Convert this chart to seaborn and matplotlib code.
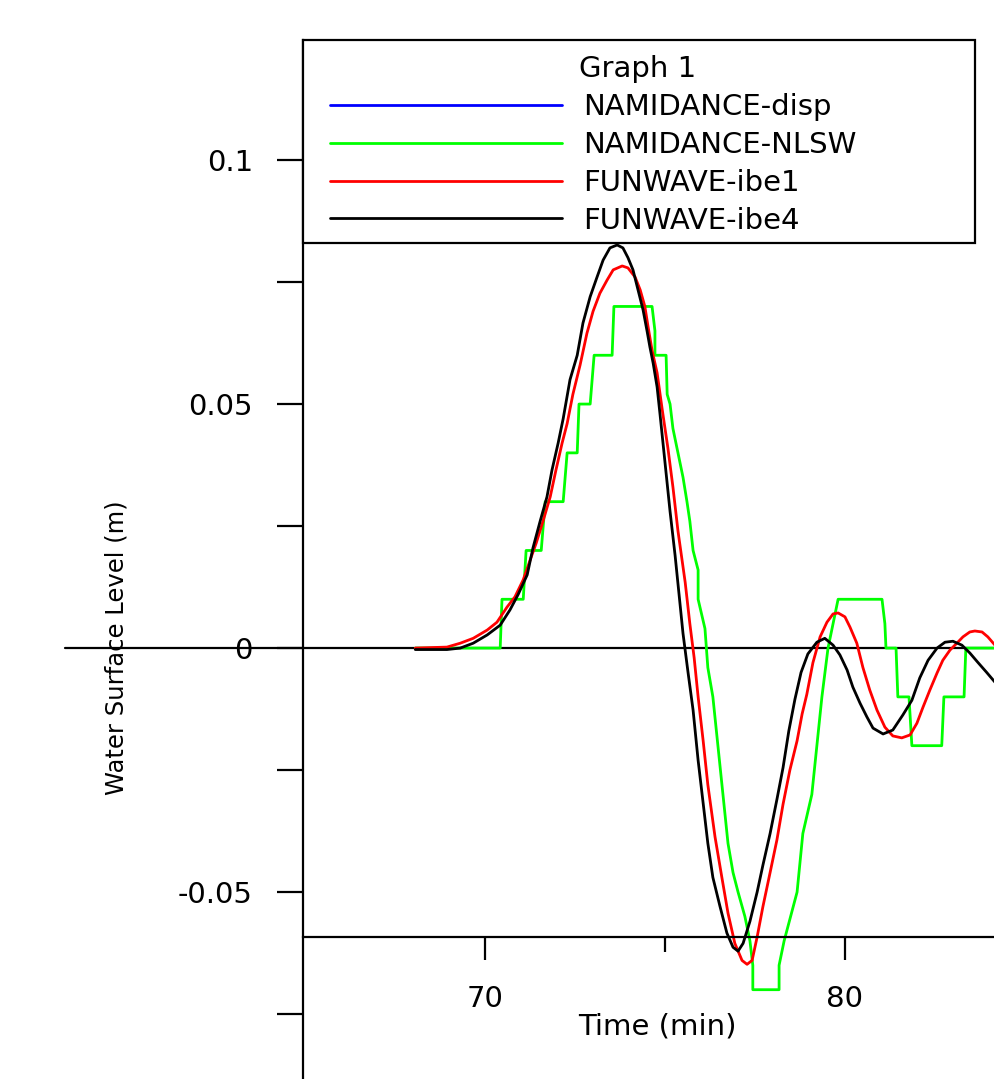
import matplotlib
matplotlib.use("Agg")
import matplotlib.pyplot as plt
import seaborn as sns
import pandas as pd
from matplotlib.lines import Line2D
from matplotlib.patches import Rectangle
from matplotlib.ticker import FixedLocator, FixedFormatter, NullFormatter

# ---------------- data ----------------
legend_title = "Graph 1"
series_names = ["NAMIDANCE-disp", "NAMIDANCE-NLSW", "FUNWAVE-ibe1", "FUNWAVE-ibe4"]
series_colors = ["#0000ff", "#00ff00", "#ff0000", "#000000"]

x_label = "Time (min)"
y_label = "Water Surface Level (m)"
x_major = [70, 80]
x_major_labels = ["70", "80"]
x_minor = [75]
y_major = [-0.05, 0.0, 0.05, 0.1]
y_major_labels = ["-0.05", "0", "0.05", "0.1"]
y_minor = [-0.075, -0.025, 0.025, 0.075]

# NAMIDANCE-disp: no visible trace in the chart
disp_t = []
disp_eta = []

nlsw_t = [68.06, 70.42, 70.47, 71.06, 71.14, 71.56, 71.67, 72.17, 72.28, 72.56, 72.61,
          72.92, 73.03, 73.53, 73.58, 74.64, 74.72, 74.72, 75.03, 75.06, 75.14, 75.22,
          75.36, 75.50, 75.61, 75.69, 75.78, 75.92, 75.92, 76.11, 76.19, 76.33, 76.47,
          76.61, 76.75, 76.89, 77.03, 77.22, 77.36, 77.44, 77.44, 78.17, 78.17, 78.31,
          78.67, 78.83, 79.08, 79.22, 79.36, 79.53, 79.67, 79.81, 81.03, 81.11, 81.14,
          81.42, 81.47, 81.78, 81.86, 82.69, 82.75, 83.31, 83.36, 84.17]
nlsw_eta = [0.0, 0.0, 0.01, 0.01, 0.02, 0.02, 0.03, 0.03, 0.04, 0.04, 0.05,
            0.05, 0.06, 0.06, 0.07, 0.07, 0.065, 0.06, 0.06, 0.052, 0.05, 0.045,
            0.04, 0.035, 0.03, 0.026, 0.02, 0.016, 0.01, 0.004, -0.004, -0.01, -0.02,
            -0.03, -0.04, -0.046, -0.05, -0.055, -0.06, -0.065, -0.07, -0.07, -0.065, -0.06,
            -0.05, -0.038, -0.03, -0.02, -0.01, 0.0, 0.005, 0.01, 0.01, 0.005, 0.0,
            0.0, -0.01, -0.01, -0.02, -0.02, -0.01, -0.01, 0.0, 0.0]

ibe1_t = [68.06, 68.94, 69.31, 69.67, 70.06, 70.33, 70.61, 70.83, 71.06, 71.25, 71.42,
          71.61, 71.81, 71.97, 72.14, 72.28, 72.44, 72.64, 72.83, 73.0, 73.19, 73.39,
          73.56, 73.81, 73.97, 74.17, 74.31, 74.44, 74.53, 74.64, 74.78, 74.92, 75.08,
          75.22, 75.36, 75.56, 75.69, 75.81, 75.92, 76.06, 76.19, 76.39, 76.58, 76.75,
          76.94, 77.14, 77.28, 77.42, 77.56, 77.72, 77.92, 78.11, 78.28, 78.47, 78.67,
          78.81, 78.94, 79.11, 79.31, 79.5, 79.67, 79.81, 80.0, 80.14, 80.33, 80.5,
          80.69, 80.89, 81.11, 81.33, 81.58, 81.81, 82.0, 82.17, 82.36, 82.56, 82.72,
          82.92, 83.11, 83.28, 83.47, 83.61, 83.81, 83.97, 84.17]
ibe1_eta = [0.0, 0.0002, 0.001, 0.002, 0.0037, 0.0053, 0.0084, 0.0105, 0.014, 0.018, 0.0215,
            0.026, 0.031, 0.0365, 0.042, 0.046, 0.052, 0.058, 0.0645, 0.069, 0.0727, 0.0754,
            0.0775, 0.0783, 0.0779, 0.076, 0.0734, 0.070, 0.0658, 0.061, 0.0564, 0.049, 0.041,
            0.033, 0.024, 0.0135, 0.005, -0.002, -0.01, -0.019, -0.028, -0.0387, -0.047, -0.0543,
            -0.0605, -0.064, -0.0648, -0.064, -0.0592, -0.053, -0.046, -0.0393, -0.032, -0.025, -0.019,
            -0.0135, -0.0095, -0.003, 0.0023, 0.0053, 0.007, 0.0072, 0.0064, 0.0043, 0.001, -0.004,
            -0.0086, -0.0127, -0.0162, -0.018, -0.0184, -0.0178, -0.0154, -0.0121, -0.0086, -0.0051, -0.0025,
            -0.0004, 0.001, 0.0023, 0.0033, 0.0035, 0.0033, 0.0023, 0.0006]

ibe4_t = [68.06, 68.94, 69.31, 69.67, 70.06, 70.42, 70.69, 70.92, 71.17, 71.33, 71.53,
          71.72, 71.86, 72.03, 72.17, 72.36, 72.56, 72.72, 72.92, 73.11, 73.28, 73.47,
          73.67, 73.83, 73.97, 74.11, 74.25, 74.39, 74.5, 74.58, 74.67, 74.78, 74.86,
          75.0, 75.14, 75.28, 75.39, 75.5, 75.64, 75.78, 75.92, 76.06, 76.19, 76.33,
          76.53, 76.72, 76.89, 77.03, 77.17, 77.36, 77.56, 77.72, 77.92, 78.11, 78.28,
          78.44, 78.61, 78.78, 78.97, 79.22, 79.44, 79.67, 79.86, 80.06, 80.22, 80.42,
          80.61, 80.78, 81.06, 81.33, 81.61, 81.86, 82.08, 82.31, 82.56, 82.78, 83.0,
          83.25, 83.47, 83.69, 83.94, 84.17]
ibe4_eta = [-0.0003, -0.0003, 0.0, 0.001, 0.0027, 0.0047, 0.0078, 0.011, 0.015, 0.0205, 0.026,
            0.031, 0.0365, 0.042, 0.047, 0.055, 0.060, 0.0666, 0.072, 0.076, 0.0795, 0.082,
            0.0826, 0.082, 0.080, 0.0775, 0.0734, 0.0693, 0.065, 0.0617, 0.0584, 0.0535, 0.048,
            0.038, 0.028, 0.019, 0.011, 0.003, -0.005, -0.0127, -0.023, -0.0318, -0.040, -0.047,
            -0.053, -0.0584, -0.0613, -0.0621, -0.0605, -0.056, -0.050, -0.0445, -0.038, -0.031, -0.0245,
            -0.017, -0.0105, -0.005, -0.0012, 0.0012, 0.002, 0.0006, -0.0014, -0.0045, -0.008, -0.0113,
            -0.0141, -0.0164, -0.0176, -0.0168, -0.0137, -0.0107, -0.0061, -0.0025, 0.0, 0.0012, 0.0014,
            0.0006, -0.001, -0.0029, -0.005, -0.007]

# ---------------- style ----------------
sns.set_style("white")
plt.rcParams["font.family"] = ["DejaVu Sans"]
plt.rcParams["axes.unicode_minus"] = False
plt.rcParams["text.color"] = "black"
plt.rcParams["axes.labelcolor"] = "black"
plt.rcParams["xtick.color"] = "black"
plt.rcParams["ytick.color"] = "black"

W, H = 995, 1079
fig = plt.figure(figsize=(W / 100, H / 100), dpi=100)
ax = fig.add_axes([303 / W, 0.0, 692 / W, 1039 / H])

LW = 2.0
series = [(nlsw_t, nlsw_eta, series_colors[1]),
          (ibe1_t, ibe1_eta, series_colors[2]),
          (ibe4_t, ibe4_eta, series_colors[3])]
for t, e, c in series:
    df = pd.DataFrame({"t": t, "eta": e})
    sns.lineplot(data=df, x="t", y="eta", sort=False, estimator=None,
                 color=c, lw=LW, ax=ax, legend=False)

ax.set_xlim(64.94, 84.17)
ax.set_ylim(-0.0883, 0.1246)

# spines
for s in ["top", "right"]:
    ax.spines[s].set_visible(False)
for s in ["left", "bottom"]:
    ax.spines[s].set_linewidth(1.6)
    ax.spines[s].set_color("black")
ax.spines["bottom"].set_position(("data", -0.0592))

# zero line extending left beyond the axis
ax.axhline(0.0, xmin=(65 - 303) / 692, xmax=1.0, color="black", lw=1.6,
           clip_on=False, zorder=1)

# ticks
ax.xaxis.set_major_locator(FixedLocator(x_major))
ax.xaxis.set_major_formatter(FixedFormatter(x_major_labels))
ax.xaxis.set_minor_locator(FixedLocator(x_minor))
ax.xaxis.set_minor_formatter(NullFormatter())
ax.yaxis.set_major_locator(FixedLocator(y_major))
ax.yaxis.set_major_formatter(FixedFormatter(y_major_labels))
ax.yaxis.set_minor_locator(FixedLocator(y_minor))
ax.yaxis.set_minor_formatter(NullFormatter())

ax.tick_params(axis="y", which="both", direction="out", length=19, width=1.6,
               pad=17, labelsize=21, left=True, colors="black")
ax.tick_params(axis="x", which="major", direction="out", length=16.5, width=1.6,
               pad=18, labelsize=21, bottom=True, colors="black")
ax.tick_params(axis="x", which="minor", direction="out", length=11, width=1.6,
               bottom=True)

ax.set_xlabel(x_label, fontsize=21, color="black")
ax.xaxis.set_label_coords((657 - 303) / 692, (1079 - 1013) / 1039)
ax.set_ylabel(y_label, fontsize=17.5, color="black")
ax.yaxis.set_label_coords((129 - 303) / 692, (1079 - 648) / 1039)

# legend frame
frame = Rectangle((303 / W, 1 - 243 / H), 672 / W, 203 / H, transform=fig.transFigure,
                  facecolor="white", edgecolor="black", lw=1.6, zorder=4, clip_on=False)
ax.add_patch(frame)

F = 21 * 100 / 72
handles = [Line2D([], [], color=c, lw=LW) for c in series_colors]
top = 1 - 55 / H
leg = ax.legend(handles, series_names, title=legend_title,
                loc="upper left", bbox_to_anchor=(330 / W, 0.80, 615 / W, top - 0.80),
                bbox_transform=fig.transFigure, mode="expand", frameon=False,
                borderpad=0, borderaxespad=0, handlelength=232 / F,
                handletextpad=21 / F, labelspacing=0.34, fontsize=21, title_fontsize=21)
leg.set_zorder(5)
for txt in leg.get_texts():
    txt.set_color("black")
leg.get_title().set_color("black")

fig.savefig("out.png", dpi=100)
